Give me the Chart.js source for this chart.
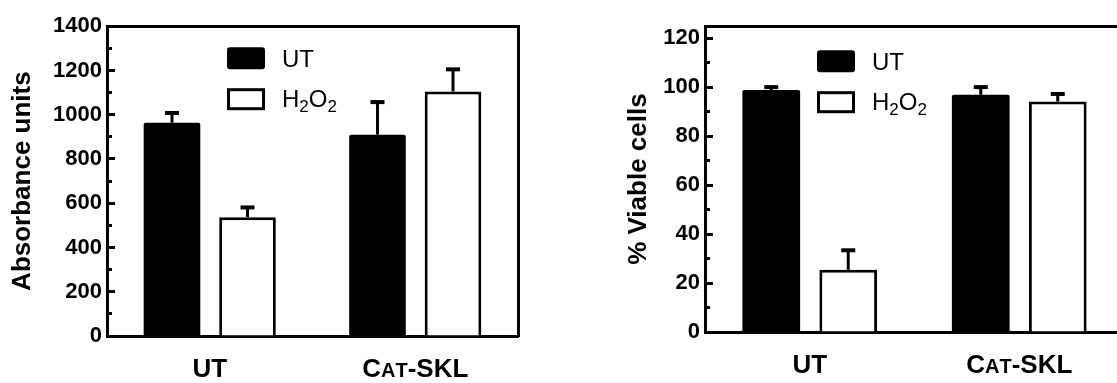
<!DOCTYPE html>
<html>
<head>
<meta charset="utf-8">
<title>Absorbance and viability</title>
<script src="https://cdn.jsdelivr.net/npm/chart.js@4.4.1/dist/chart.umd.min.js"></script>
<style>
  html, body { margin: 0; padding: 0; background: #fff; overflow: hidden; }
  body { width: 1117px; height: 383px; position: relative; }
  .panel { position: absolute; top: 0; height: 383px; }
  #left { left: 0; width: 560px; }
  #right { left: 560px; width: 600px; }
</style>
</head>
<body>
<div class="panel" id="left"><canvas id="absChart"></canvas></div>
<div class="panel" id="right"><canvas id="viaChart"></canvas></div>
<script>
// lowercase letters in a category are drawn as small caps
const categories = ['UT', 'Cat-SKL'];
const seriesNames = ['UT', 'H2O2'];

// left panel: absorbance units
const absUT = [964, 910];
const absUTErr = [44, 147];
const absH2O2 = [537, 1105];
const absH2O2Err = [44, 100];
const absTicks = [0, 200, 400, 600, 800, 1000, 1200, 1400];
const absMinorTicks = [100, 300, 500, 700, 900, 1100, 1300];

// right panel: % viable cells
const viaUT = [98.9, 97.0];
const viaUTErr = [1.2, 3.1];
const viaH2O2 = [25.4, 94.2];
const viaH2O2Err = [8.0, 3.1];
const viaTicks = [0, 20, 40, 60, 80, 100, 120];
const viaMinorTicks = [10, 30, 50, 70, 90, 110];

const FONT = '"Liberation Sans", Arial, Helvetica, sans-serif';
Chart.defaults.font.family = FONT;
Chart.defaults.color = '#000';

// error bars (upper only)
const errorBars = {
  id: 'errorBars',
  afterDatasetsDraw(chart) {
    const ctx = chart.ctx, y = chart.scales.y;
    ctx.save();
    ctx.strokeStyle = '#000';
    chart.data.datasets.forEach((ds, i) => {
      chart.getDatasetMeta(i).data.forEach((bar, j) => {
        const top = y.getPixelForValue(ds.data[j] + ds.err[j]);
        ctx.lineWidth = 3;
        ctx.beginPath();
        ctx.moveTo(bar.x, bar.y);
        ctx.lineTo(bar.x, top);
        ctx.stroke();
        ctx.lineWidth = 4;
        ctx.beginPath();
        ctx.moveTo(bar.x - 7, top);
        ctx.lineTo(bar.x + 7, top);
        ctx.stroke();
      });
    });
    ctx.restore();
  }
};

function drawSmallCaps(ctx, text, cx, baseline, size) {
  const runs = [];
  for (const ch of text) {
    const small = ch !== ch.toUpperCase();
    runs.push({ t: ch.toUpperCase(), s: Math.round(small ? size * 0.78 : size) });
  }
  let total = 0;
  runs.forEach(r => {
    ctx.font = 'bold ' + r.s + 'px ' + FONT;
    r.w = ctx.measureText(r.t).width;
    total += r.w;
  });
  let x = cx - total / 2;
  runs.forEach(r => {
    ctx.font = 'bold ' + r.s + 'px ' + FONT;
    ctx.fillText(r.t, x, baseline);
    x += r.w;
  });
}

// category names under the x axis
const categoryLabels = {
  id: 'categoryLabels',
  afterDraw(chart, args, opts) {
    const ctx = chart.ctx, xs = chart.scales.x;
    ctx.save();
    ctx.fillStyle = '#000';
    ctx.textAlign = 'left';
    ctx.textBaseline = 'alphabetic';
    chart.data.labels.forEach((lab, i) => {
      drawSmallCaps(ctx, lab, xs.getPixelForValue(i), chart.chartArea.bottom + opts.dy, 26);
    });
    ctx.restore();
  }
};

// text with digits as subscripts (H2O2)
function drawChem(ctx, text, x, baseline) {
  for (const ch of text) {
    const sub = /[0-9]/.test(ch);
    ctx.font = (sub ? 17 : 24) + 'px ' + FONT;
    ctx.fillText(ch, x, baseline + (sub ? 5 : 0));
    x += ctx.measureText(ch).width;
  }
}

// legend inside the plot
const innerLegend = {
  id: 'innerLegend',
  afterDraw(chart, args, opts) {
    const ctx = chart.ctx, a = chart.chartArea;
    const x = a.left + opts.dx, y0 = a.top + opts.dy;
    ctx.save();
    ctx.fillStyle = '#000';
    ctx.strokeStyle = '#000';
    ctx.beginPath();
    ctx.roundRect(x, y0, 38, 22, 3);
    ctx.fill();
    ctx.lineWidth = 3;
    ctx.strokeRect(x + 1.5, y0 + 42.5, 35, 19);
    ctx.textAlign = 'left';
    ctx.textBaseline = 'alphabetic';
    drawChem(ctx, chart.data.datasets[0].label, x + 55, y0 + 20);
    drawChem(ctx, chart.data.datasets[1].label, x + 55, y0 + 60);
    ctx.restore();
  }
};

function makeChart(id, c) {
  return new Chart(document.getElementById(id), {
    type: 'bar',
    data: {
      labels: categories,
      datasets: [
        { label: seriesNames[0], data: c.ut, err: c.utErr, backgroundColor: '#000',
          borderColor: '#000', borderWidth: 0, borderRadius: 2, borderSkipped: 'start' },
        { label: seriesNames[1], data: c.h2o2, err: c.h2o2Err, backgroundColor: '#fff',
          borderColor: '#000', borderWidth: 3, borderSkipped: 'start' }
      ]
    },
    options: {
      responsive: true,
      maintainAspectRatio: false,
      animation: false,
      categoryPercentage: 0.735,
      barPercentage: 0.75,
      layout: { padding: { top: c.padTop, right: c.padRight, left: 0, bottom: 0 } },
      plugins: {
        legend: { display: false },
        tooltip: { enabled: false },
        innerLegend: c.legend,
        categoryLabels: { dy: 41 }
      },
      scales: {
        x: {
          type: 'category', position: 'bottom',
          grid: { drawOnChartArea: false, drawTicks: false },
          border: { width: 3, color: '#000' },
          ticks: { display: false },
          afterFit: s => { s.height = c.xHeight; }
        },
        xTop: {
          type: 'category', position: 'top',
          grid: { drawOnChartArea: false, drawTicks: false },
          border: { width: 3, color: '#000' },
          ticks: { display: false },
          afterFit: s => { s.height = 0; }
        },
        y: {
          type: 'linear', position: 'left', weight: 1,
          min: 0, max: c.max,
          afterBuildTicks: s => { s.ticks = c.ticks.map(v => ({ value: v })); },
          ticks: { font: { size: 22, weight: 'bold' }, color: '#000', padding: 13,
                   callback: v => String(v) },
          grid: { drawOnChartArea: false, tickLength: -8, tickWidth: 3, tickColor: '#000' },
          border: { width: 3, color: '#000' },
          title: { display: true, text: c.title, color: '#000',
                   font: { size: 26, weight: 'bold' }, padding: { top: c.titlePad, bottom: 0 } },
          afterFit: s => { s.width = c.yWidth; }
        },
        yMinor: {
          type: 'linear', position: 'left', weight: 0,
          min: 0, max: c.max,
          afterBuildTicks: s => { s.ticks = c.minor.map(v => ({ value: v })); },
          ticks: { display: false },
          grid: { drawOnChartArea: false, tickLength: -5, tickWidth: 3, tickColor: '#000' },
          border: { display: false },
          afterFit: s => { s.width = 0; }
        },
        yRight: {
          type: 'linear', position: 'right',
          ticks: { display: false },
          grid: { drawOnChartArea: false, drawTicks: false },
          border: { width: 3, color: '#000' },
          afterFit: s => { s.width = 0; }
        }
      }
    },
    plugins: [errorBars, categoryLabels, innerLegend]
  });
}

makeChart('absChart', {
  ut: absUT, utErr: absUTErr, h2o2: absH2O2, h2o2Err: absH2O2Err,
  max: 1400, ticks: absTicks, minor: absMinorTicks,
  title: 'Absorbance units', titlePad: 7,
  yWidth: 107, padTop: 19, padRight: 42, xHeight: 47,
  legend: { dx: 120, dy: 21 }
});

makeChart('viaChart', {
  ut: viaUT, utErr: viaUTErr, h2o2: viaH2O2, h2o2Err: viaH2O2Err,
  max: 125, ticks: viaTicks, minor: viaMinorTicks,
  title: '% Viable cells', titlePad: 63,
  yWidth: 145, padTop: 17, padRight: 36, xHeight: 51,
  legend: { dx: 112, dy: 24 }
});
</script>
</body>
</html>
